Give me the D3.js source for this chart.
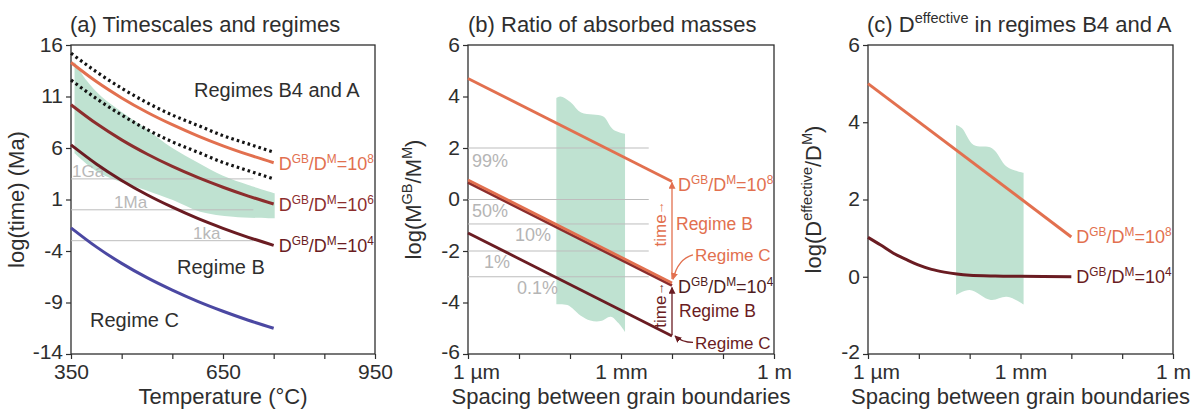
<!DOCTYPE html>
<html>
<head>
<meta charset="utf-8">
<script src="https://cdn.jsdelivr.net/npm/d3@7"></script>
<style>
  body { margin: 0; background: #fff; }
  text { font-family: Arial, "Liberation Sans", sans-serif; }
</style>
</head>
<body>
<svg id="chart" width="1193" height="412"></svg>
<script>
// ---- panel (a): timescales vs temperature ----
const tempC = [350, 400, 450, 500, 550, 600, 650, 700, 750];
const upperDotted = [15.2, 13.4, 11.8, 10.4, 9.2, 8.2, 7.2, 6.4, 5.6];
const time1e8 = [14.3, 12.45, 10.86, 9.47, 8.26, 7.18, 6.21, 5.35, 4.57];
const lowerDotted = [12.6, 10.8, 9.2, 7.8, 6.6, 5.6, 4.6, 3.8, 3.0];
const time1e6 = [10.2, 8.37, 6.79, 5.42, 4.21, 3.14, 2.19, 1.33, 0.56];
const time1e4 = [6.3, 4.45, 2.85, 1.46, 0.25, -0.84, -1.8, -2.67, -3.45];
const timeRegimeC = [-1.75, -3.6, -5.2, -6.59, -7.8, -8.89, -9.85, -10.72, -11.5];
const bandATop = [[357, 14.4], [380, 12.6], [410, 11.0], [450, 9.5], [500, 7.8], [550, 6.0], [600, 4.6], [650, 3.3], [700, 2.4], [752, 1.6]];
const bandABottom = [[752, -0.83], [670, -0.67], [605, -0.18], [551, 0.95], [506, 1.76], [407, 3.55], [357, 5.5]];
const timeRefValues = [3, 0, -3];
const timeRefLabels = ["1Ga", "1Ma", "1ka"];
const tempTicks = [350, 450, 550, 650, 750, 850, 950];
const tempTickLabels = [350, 650, 950];
const timeTicks = [16, 11, 6, 1, -4, -9, -14];

// ---- panel (b): ratio of absorbed masses ----
const spacingEnds = [1e-6, 1e-2];
const mass1e8B = [4.7, 0.7];
const mass1e8C = [0.76, -3.24];
const mass1e4B = [0.66, -3.34];
const mass1e4C = [-1.3, -5.3];
const percentValues = [2, 0, -0.95, -2, -3];
const percentLabels = ["99%", "50%", "10%", "1%", "0.1%"];
const bandBTop = [[5.4e-5, 3.94], [6.5e-5, 4.0], [1.0e-4, 3.8], [1.65e-4, 3.38], [2.8e-4, 3.3], [4.5e-4, 3.22], [7.0e-4, 2.72], [1.2e-3, 2.55]];
const bandBBottom = [[1.2e-3, -5.15], [8.9e-4, -4.8], [6.3e-4, -4.55], [4.0e-4, -4.72], [2.5e-4, -4.7], [1.6e-4, -4.5], [8.9e-5, -4.1], [5.4e-5, -4.07]];

// ---- panel (c): effective diffusivity ----
const eff1e8 = [5.0, 1.03];
const effSpacing1e4 = [1e-6, 1.78e-6, 3.16e-6, 5.6e-6, 1e-5, 1.78e-5, 3.16e-5, 5.6e-5, 1e-4, 3.16e-4, 1e-3, 1e-2];
const eff1e4 = [1.02, 0.82, 0.61, 0.45, 0.3, 0.19, 0.12, 0.07, 0.04, 0.02, 0.01, 0.0];
const bandCTop = [[5.4e-5, 3.93], [7.0e-5, 3.85], [1.2e-4, 3.41], [2.75e-4, 3.33], [5.4e-4, 2.85], [1.15e-3, 2.69]];
const bandCBottom = [[1.15e-3, -0.72], [1.07e-3, -0.69], [5.4e-4, -0.52], [2.6e-4, -0.6], [1.0e-4, -0.34], [5.4e-5, -0.47]];

const spacingTicks = [1e-6, 1e-5, 1e-4, 1e-3, 1e-2, 1e-1, 1];
const spacingTickLabels = new Map([[1e-6, "1 µm"], [1e-3, "1 mm"], [1, "1 m"]]);

// colours
const ink = "#2e2e2e";
const orange = "#e2704f";
const darkRed = "#8c2d2d";
const darkest = "#6a1c22";
const blue = "#4b48a2";
const green = "#bfe2d1";
const grey = "#bdbdbd";

const svg = d3.select("#chart");

// Scales
const xA = d3.scaleLinear().domain([350, 950]).range([71, 375]);
const yA = d3.scaleLinear().domain([-14, 16]).range([354, 45]);
const xB = d3.scaleLog().domain([1e-6, 1]).range([468, 774]);
const yB = d3.scaleLinear().domain([-6, 6]).range([354, 45]);
const xC = d3.scaleLog().domain([1e-6, 1]).range([868, 1173]);
const yC = d3.scaleLinear().domain([-2, 6]).range([354, 45]);

// text with superscripts: parts = [[text, isSup], ...]
function rich(sel, parts, size) {
  let prevSup = false;
  parts.forEach(([t, sup]) => {
    let dy = 0;
    if (sup && !prevSup) dy = -size * 0.4;
    if (!sup && prevSup) dy = size * 0.4;
    sel.append("tspan").text(t)
      .attr("font-size", sup ? size * 0.66 : size)
      .attr("dy", dy);
    prevSup = !!sup;
  });
  return sel;
}

function ratioParts(exp) {
  return [["D"], ["GB", 1], ["/D"], ["M", 1], ["=10"], [exp, 1]];
}

// frame, ticks and labels for one panel
function drawFrame(x, y, xTicks, xFormat, yTicks, xTitle, yTitleParts, titleParts, titleX) {
  const [x0, x1] = x.range();
  const [yb, yt] = y.range();

  const gx = svg.append("g").attr("transform", `translate(0,${yb})`)
    .call(d3.axisBottom(x).tickValues(xTicks).tickSize(5).tickPadding(5).tickFormat(xFormat));
  const gy = svg.append("g").attr("transform", `translate(${x0},0)`)
    .call(d3.axisLeft(y).tickValues(yTicks).tickSize(5).tickPadding(3).tickFormat(d => String(d)));
  [gx, gy].forEach(g => {
    g.select(".domain").remove();
    g.selectAll(".tick line").attr("stroke", ink).attr("stroke-width", 1.2);
    g.selectAll(".tick text").attr("fill", ink).attr("font-size", 21)
      .style("font-family", "Arial, 'Liberation Sans', sans-serif");
  });
  gy.selectAll(".tick text").attr("dy", "0.3em");
  // lowest y label nudged up a touch so it clears the x labels
  gy.selectAll(".tick text").filter(d => d === yTicks[yTicks.length - 1]).attr("dy", "0.2em");
  // the leftmost spacing label sits a little right of its tick
  gx.selectAll(".tick text").filter(d => d === xTicks[0] && d < 1e-3).attr("dx", 8);

  svg.append("rect")
    .attr("x", x0).attr("y", yt).attr("width", x1 - x0).attr("height", yb - yt)
    .attr("fill", "none").attr("stroke", ink).attr("stroke-width", 1.3);

  svg.append("text")
    .attr("x", (x0 + x1) / 2).attr("y", 404)
    .attr("text-anchor", "middle").attr("font-size", 22).attr("fill", ink)
    .text(xTitle);

  const yt2 = svg.append("text")
    .attr("transform", `translate(${x0 - 47},${(yb + yt) / 2}) rotate(-90)`)
    .attr("text-anchor", "middle").attr("font-size", 22).attr("fill", ink);
  rich(yt2, yTitleParts, 22);

  const tt = svg.append("text")
    .attr("x", titleX).attr("y", 32).attr("font-size", 22).attr("fill", ink);
  rich(tt, titleParts, 22);
}

function bandPath(x, y, top, bottom, curve) {
  const line = d3.line().x(d => x(d[0])).y(d => y(d[1])).curve(curve);
  return line(top) + "L" + line(bottom).substring(1) + "Z";
}

function arrowMarker(id, colour) {
  svg.append("defs").append("marker")
    .attr("id", id).attr("viewBox", "0 0 10 10")
    .attr("refX", 9).attr("refY", 5)
    .attr("markerWidth", 7).attr("markerHeight", 7)
    .attr("markerUnits", "userSpaceOnUse")
    .attr("orient", "auto")
    .append("path").attr("d", "M0,0 L10,5 L0,10 Z").attr("fill", colour);
}
arrowMarker("arrOrange", orange);
arrowMarker("arrDark", darkest);

// ================= Panel (a) =================
drawFrame(xA, yA, tempTicks, d => tempTickLabels.includes(d) ? d : "", timeTicks,
  "Temperature (°C)", [["log(time) (Ma)"]], [["(a) Timescales and regimes"]], 70);

svg.append("path")
  .attr("d", bandPath(xA, yA, bandATop, bandABottom, d3.curveCatmullRom))
  .attr("fill", green);

// reference lines 1Ga / 1Ma / 1ka
const refLabelTemp = [352, 435, 591];
timeRefValues.forEach((v, i) => {
  svg.append("line")
    .attr("x1", xA(350)).attr("x2", xA(710))
    .attr("y1", yA(v)).attr("y2", yA(v))
    .attr("stroke", grey).attr("stroke-width", 1);
  svg.append("text")
    .attr("x", xA(refLabelTemp[i])).attr("y", yA(v) - 1.5)
    .attr("font-size", 17).attr("fill", "#b8b8b8")
    .text(timeRefLabels[i]);
});

const lineA = d3.line().x((d, i) => xA(tempC[i])).y(d => yA(d)).curve(d3.curveMonotoneX);

[[upperDotted], [lowerDotted]].forEach(([s]) => {
  svg.append("path").attr("d", lineA(s))
    .attr("fill", "none").attr("stroke", "#141414")
    .attr("stroke-width", 3.2).attr("stroke-dasharray", "2.6 3.1");
});

[[time1e8, orange], [time1e6, darkRed], [time1e4, darkest], [timeRegimeC, blue]].forEach(([s, c]) => {
  svg.append("path").attr("d", lineA(s))
    .attr("fill", "none").attr("stroke", c).attr("stroke-width", 3);
});

[[time1e8, orange, "8"], [time1e6, darkRed, "6"], [time1e4, darkest, "4"]].forEach(([s, c, e]) => {
  const t = svg.append("text")
    .attr("x", xA(750) + 5).attr("y", yA(s[s.length - 1]) + 7)
    .attr("fill", c);
  rich(t, ratioParts(e), 18);
});

svg.append("text").attr("x", 194).attr("y", 97).attr("font-size", 20).attr("fill", ink).text("Regimes B4 and A");
svg.append("text").attr("x", 177).attr("y", 274).attr("font-size", 20).attr("fill", ink).text("Regime B");
svg.append("text").attr("x", 90).attr("y", 327).attr("font-size", 20).attr("fill", ink).text("Regime C");

// ================= Panel (b) =================
drawFrame(xB, yB, spacingTicks, d => spacingTickLabels.get(d) || "", [6, 4, 2, 0, -2, -4, -6],
  "Spacing between grain boundaries", [["log(M"], ["GB", 1], ["/M"], ["M", 1], [")"]],
  [["(b) Ratio of absorbed masses"]], 468);

svg.append("path")
  .attr("d", bandPath(xB, yB, bandBTop, bandBBottom, d3.curveCatmullRom))
  .attr("fill", green);

const percentLabelX = [472, 472, 515, 484, 517];
const percentLabelDy = [19, 17, 17, 17, 17];
percentValues.forEach((v, i) => {
  svg.append("line")
    .attr("x1", xB(1e-6)).attr("x2", xB(3.5e-3))
    .attr("y1", yB(v)).attr("y2", yB(v))
    .attr("stroke", grey).attr("stroke-width", 1);
  svg.append("text")
    .attr("x", percentLabelX[i]).attr("y", yB(v) + percentLabelDy[i])
    .attr("font-size", 18).attr("fill", "#b5b5b5")
    .text(percentLabels[i]);
});

const lineB = d3.line().x((d, i) => xB(spacingEnds[i])).y(d => yB(d));
[[mass1e8B, orange], [mass1e4B, darkRed], [mass1e8C, orange], [mass1e4C, darkest]].forEach(([s, c]) => {
  svg.append("path").attr("d", lineB(s))
    .attr("fill", "none").attr("stroke", c).attr("stroke-width", 2.8);
});

// time arrows
const xEnd = xB(1e-2);
svg.append("line")
  .attr("x1", xEnd).attr("x2", xEnd)
  .attr("y1", yB(mass1e8C[1]) - 4).attr("y2", yB(mass1e8B[1]) + 1)
  .attr("stroke", orange).attr("stroke-width", 1.3)
  .attr("marker-end", "url(#arrOrange)");
svg.append("line")
  .attr("x1", xEnd).attr("x2", xEnd)
  .attr("y1", yB(mass1e4C[1]) - 1).attr("y2", yB(mass1e4B[1]) + 2)
  .attr("stroke", darkest).attr("stroke-width", 1.3)
  .attr("marker-end", "url(#arrDark)");

[[-0.95, orange], [-4.1, darkest]].forEach(([v, c]) => {
  const t = svg.append("text")
    .attr("transform", `translate(${xEnd - 6},${yB(v)}) rotate(-90)`)
    .attr("text-anchor", "middle").attr("fill", c);
  t.append("tspan").attr("font-size", 17).text("time");
  t.append("tspan").attr("font-size", 13).attr("dy", -2).text("→");
});

// curved pointers to the regime C ends
svg.append("path")
  .attr("d", `M${xEnd + 21},${yB(-2.15)} Q${xEnd + 6},${yB(-2.3)} ${xEnd + 1},${yB(-3.1)}`)
  .attr("fill", "none").attr("stroke", orange).attr("stroke-width", 1.3)
  .attr("marker-end", "url(#arrOrange)");
svg.append("path")
  .attr("d", `M${xEnd + 21},${yB(-5.55)} Q${xEnd + 10},${yB(-5.55)} ${xEnd + 3},${yB(-5.3)}`)
  .attr("fill", "none").attr("stroke", darkest).attr("stroke-width", 1.3)
  .attr("marker-end", "url(#arrDark)");

const t8b = svg.append("text").attr("x", xEnd + 6).attr("y", yB(0.55) + 6).attr("fill", orange);
rich(t8b, ratioParts("8"), 18);
svg.append("text").attr("x", xEnd + 4).attr("y", yB(-0.95) + 6).attr("font-size", 17.5).attr("fill", orange).text("Regime B");
svg.append("text").attr("x", xEnd + 23).attr("y", yB(-2.17) + 6).attr("font-size", 17).attr("fill", orange).text("Regime C");
const t4b = svg.append("text").attr("x", xEnd + 6).attr("y", yB(-3.4) + 6).attr("fill", "#4e1c20");
rich(t4b, ratioParts("4"), 18);
svg.append("text").attr("x", xEnd + 7).attr("y", yB(-4.33) + 6).attr("font-size", 17.5).attr("fill", darkest).text("Regime B");
svg.append("text").attr("x", xEnd + 23).attr("y", yB(-5.57) + 6).attr("font-size", 17).attr("fill", darkest).text("Regime C");

// ================= Panel (c) =================
drawFrame(xC, yC, spacingTicks, d => spacingTickLabels.get(d) || "", [6, 4, 2, 0, -2],
  "Spacing between grain boundaries", [["log(D"], ["effective", 1], ["/D"], ["M", 1], [")"]],
  [["(c) D"], ["effective", 1], [" in regimes B4 and A"]], 867);

svg.append("path")
  .attr("d", bandPath(xC, yC, bandCTop, bandCBottom, d3.curveCatmullRom))
  .attr("fill", green);

const lineC = d3.line().x(d => xC(d[0])).y(d => yC(d[1])).curve(d3.curveCatmullRom);
svg.append("path").attr("d", lineC(spacingEnds.map((s, i) => [s, eff1e8[i]])))
  .attr("fill", "none").attr("stroke", orange).attr("stroke-width", 3);
svg.append("path").attr("d", lineC(effSpacing1e4.map((s, i) => [s, eff1e4[i]])))
  .attr("fill", "none").attr("stroke", darkest).attr("stroke-width", 3);

const t8c = svg.append("text").attr("x", xC(1e-2) + 5).attr("y", yC(eff1e8[1]) + 6).attr("fill", orange);
rich(t8c, ratioParts("8"), 18);
const t4c = svg.append("text").attr("x", xC(1e-2) + 5).attr("y", yC(0) + 6).attr("fill", darkest);
rich(t4c, ratioParts("4"), 18);
</script>
</body>
</html>
